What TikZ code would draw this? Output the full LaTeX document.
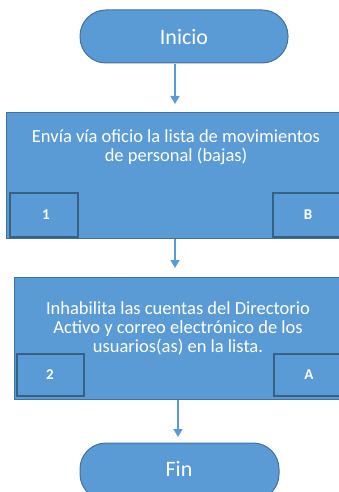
\documentclass[tikz,border=0pt]{standalone}
\usepackage{fontspec}
\setmainfont{Carlito}
\usetikzlibrary{arrows.meta}
\definecolor{fillb}{HTML}{5B9BD5}
\definecolor{edgeb}{HTML}{41719C}
\tikzset{
  term/.style={draw=edgeb, line width=1pt, fill=fillb, rounded corners=26pt},
  termtxt/.style={text=white, font=\fontsize{22}{26}\selectfont},
  proc/.style={draw=edgeb, line width=1pt, fill=fillb},
  tag/.style={draw=edgeb!85!black, line width=1.2pt, fill=fillb},
  tagtxt/.style={text=white, font=\fontsize{15}{18}\selectfont\bfseries},
  lbl/.style={text=white, align=center, font=\fontsize{18.5}{19}\selectfont},
  conn/.style={draw=fillb, line width=1.6pt, -{Triangle[width=9pt,length=8pt]}},
}
\begin{document}
\begin{tikzpicture}[x=1pt,y=-1pt]
\useasboundingbox (0,0) rectangle (339,492);
% Inicio
\draw[term] (80,10) rectangle (288,63);
\node[termtxt] (ini) at (184,37) {Inicio};
\coordinate (iniB) at (175,64);
% Box 1
\draw[proc] (6,113) rectangle (340,238);
\node[lbl] (t1) at (176,147) {Envía vía oficio la lista de movimientos\\de personal (bajas)};
\draw[tag] (10,193) rectangle (78,237);
\node[tagtxt] (n1) at (46,215) {1};
\draw[tag] (273,193) rectangle (340,237);
\node[tagtxt] (nB) at (308,215) {B};
\coordinate (b1B) at (175,239);
% Box 2
\draw[proc] (14,277) rectangle (340,399);
\node[lbl] (t2) at (178,328) {Inhabilita las cuentas del Directorio\\Activo y correo electrónico de los\\usuarios(as) en la lista.};
\draw[tag] (17,354) rectangle (84,396);
\node[tagtxt] (n2) at (50,375) {2};
\draw[tag] (274,354) rectangle (340,396);
\node[tagtxt] (nA) at (309,375) {A};
\coordinate (b2B) at (178,400);
% Fin
\draw[term] (80,443) rectangle (279,500);
\node[termtxt] (fin) at (179,469) {Fin};
% connectors
\draw[conn] (iniB) -- ++(0,40);
\draw[conn] (b1B) -- ++(0,29);
\draw[conn] (b2B) -- ++(0,37);
\end{tikzpicture}
\end{document}
